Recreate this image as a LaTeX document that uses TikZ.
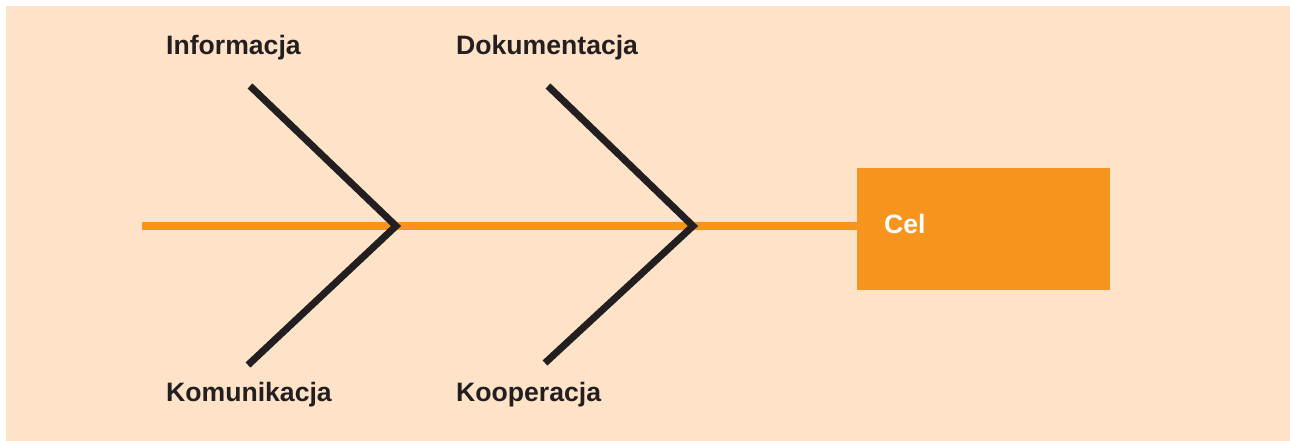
\documentclass[tikz,border=0pt]{standalone}
\usepackage{fontspec}
\setmainfont{Liberation Sans}
\definecolor{peach}{HTML}{FEE3C9}
\definecolor{orng}{HTML}{F7941D}
\definecolor{ink}{HTML}{231F20}
\begin{document}
\begin{tikzpicture}[x=1pt,y=-1pt,
  lbl/.style={font=\fontsize{26.6}{32}\selectfont\bfseries, text=ink, anchor=base west, inner sep=0pt},
  bone/.style={draw=ink, line width=7pt, line join=miter},
  spine/.style={draw=orng, line width=8pt},
  goal/.style={fill=orng, minimum width=253pt, minimum height=122pt, inner sep=0pt}]
\useasboundingbox (0,0) rectangle (1290,441);
\fill[white] (-2,-2) rectangle (1292,443);
\fill[peach] (6,6) rectangle (1292,443);
\node[goal] (cel) at (983.5,229) {};
\node[lbl, text=white] (celtxt) at (884,233) {Cel};
\coordinate (s) at (142,226);
\coordinate (j1) at (396,226);
\coordinate (j2) at (693,226);
\coordinate (t1) at (250,86);
\coordinate (b1) at (248,365);
\coordinate (t2) at (548,86);
\coordinate (b2) at (545,363);
\draw[spine] (s) -- (cel.west |- s);
\draw[bone] (t1) -- (j1) -- (b1);
\draw[bone] (t2) -- (j2) -- (b2);
\node[lbl] (inf) at (166,55) {Informacja};
\node[lbl] (dok) at (456,55) {Dokumentacja};
\node[lbl] (kom) at (166,401) {Komunikacja};
\node[lbl] (koo) at (456,401) {Kooperacja};
\end{tikzpicture}
\end{document}
